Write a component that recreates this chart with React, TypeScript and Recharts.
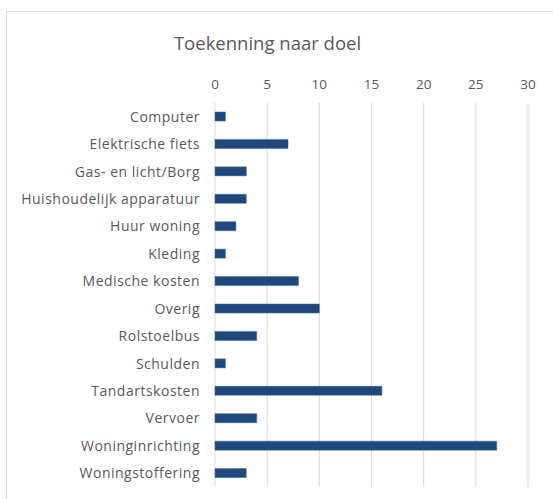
import React from 'react';
import { BarChart, Bar, XAxis, YAxis, CartesianGrid } from 'recharts';

const categories = [
  'Computer',
  'Elektrische fiets',
  'Gas- en licht/Borg',
  'Huishoudelijk apparatuur',
  'Huur woning',
  'Kleding',
  'Medische kosten',
  'Overig',
  'Rolstoelbus',
  'Schulden',
  'Tandartskosten',
  'Vervoer',
  'Woninginrichting',
  'Woningstoffering',
];

const counts = [1, 7, 3, 3, 2, 1, 8, 10, 4, 1, 16, 4, 27, 3];

const xTicks = [0, 5, 10, 15, 20, 25, 30];

const data = categories.map((name, i) => ({ name, value: counts[i] }));

const font = '"Open Sans", "Liberation Sans", sans-serif';

const App = () => {
  return (
    <div style={{ position: 'fixed', left: 0, top: 0, width: 553, height: 499, background: '#fff', overflow: 'hidden' }}>
      <div
        style={{
          position: 'absolute',
          left: 6,
          top: 11,
          width: 600,
          height: 600,
          borderTop: '1px solid #d9d9d9',
          borderLeft: '1px solid #d9d9d9',
        }}
      />
      <div
        style={{
          position: 'absolute',
          left: 0,
          width: 535,
          top: 31,
          textAlign: 'center',
          fontFamily: font,
          fontSize: 18.5,
          color: '#595959',
          lineHeight: '24px',
        }}
      >
        Toekenning naar doel
      </div>
      <div style={{ position: 'absolute', left: 0, top: 0 }}>
        <BarChart
          width={553}
          height={499}
          data={data}
          layout="vertical"
          margin={{ top: 63, right: 25, bottom: 12, left: 15 }}
        >
          <CartesianGrid horizontal={false} stroke="#d9d9d9" strokeWidth={1} />
          <XAxis
            type="number"
            orientation="top"
            domain={[0, 30]}
            ticks={xTicks}
            height={40}
            axisLine={false}
            tickLine={false}
            tickSize={0}
            tickMargin={14}
            tick={{ fill: '#595959', fontSize: 13.5, fontFamily: font }}
          />
          <YAxis
            type="category"
            dataKey="name"
            width={200}
            axisLine={false}
            tickLine={false}
            tickSize={0}
            tickMargin={15}
            interval={0}
            tick={{ fill: '#595959', fontSize: 14, fontFamily: font, letterSpacing: 0.5 }}
          />
          <Bar dataKey="value" fill="#1f497d" stroke="#3e6496" strokeWidth={0.5} barSize={9} isAnimationActive={false} />
        </BarChart>
      </div>
    </div>
  );
};

export default App;
